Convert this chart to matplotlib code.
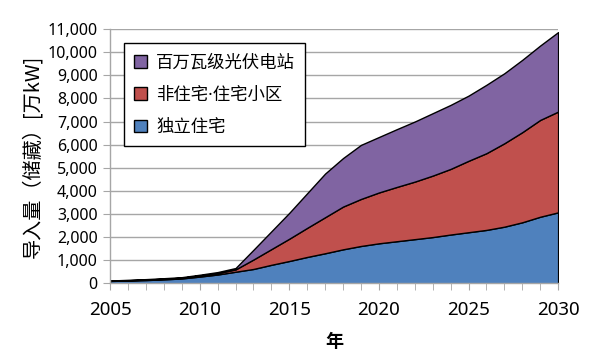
import matplotlib
matplotlib.use('Agg')
import matplotlib.pyplot as plt
from matplotlib.ticker import MultipleLocator, FuncFormatter

plt.rcParams['font.family'] = ['Noto Sans CJK SC', 'DejaVu Sans']

years = list(range(2005, 2031))

# 各区分の累積上端 [万kW]
top_house = [100, 120, 140, 170, 210, 290, 380, 500, 620, 800, 965, 1140, 1300,
             1470, 1615, 1730, 1820, 1910, 2000, 2110, 2210, 2310, 2450, 2640, 2880, 3070]
top_nonres = [110, 130, 160, 195, 240, 340, 440, 600, 1030, 1480, 1930, 2400, 2860,
              3320, 3650, 3930, 4170, 4400, 4660, 4950, 5300, 5630, 6060, 6540, 7070, 7430]
top_mega = [120, 150, 180, 220, 265, 370, 485, 660, 1450, 2250, 3050, 3900, 4750,
            5420, 5990, 6330, 6670, 7000, 7360, 7720, 8120, 8590, 9090, 9670, 10290, 10870]

house = top_house
nonres = [b - a for a, b in zip(top_house, top_nonres)]
mega = [b - a for a, b in zip(top_nonres, top_mega)]

labels = ['独立住宅', '非住宅·住宅小区', '百万瓦级光伏电站']
colors = ['#4F81BD', '#C0504D', '#8064A2']

fig = plt.figure(figsize=(5.95, 3.55), dpi=100)
ax = fig.add_axes([0.185, 0.202, 0.753, 0.716])

ax.stackplot(years, house, nonres, mega, colors=colors, labels=labels,
             edgecolor='black', linewidth=1.0, zorder=2)

ax.set_xlim(2005, 2030)
ax.set_ylim(0, 11000)
ax.yaxis.set_major_locator(MultipleLocator(1000))
ax.xaxis.set_major_locator(MultipleLocator(5))
ax.xaxis.set_minor_locator(MultipleLocator(1))
ax.yaxis.set_major_formatter(FuncFormatter(lambda v, p: f'{int(v):,}'))
ax.grid(axis='y', color='#a6a6a6', linewidth=1.0, zorder=0)
ax.set_axisbelow(True)

for s in ['top', 'right']:
    ax.spines[s].set_visible(False)
for s in ['left', 'bottom']:
    ax.spines[s].set_color('#a6a6a6')
    ax.spines[s].set_linewidth(1.0)

ax.tick_params(axis='both', which='both', color='#a6a6a6', direction='out')
ax.tick_params(axis='x', which='major', length=5, labelsize=13.5, pad=8)
ax.tick_params(axis='x', which='minor', length=5)
ax.tick_params(axis='y', length=5, labelsize=11.5, pad=4)
for t in ax.get_xticklabels() + ax.get_yticklabels():
    t.set_family(['Noto Sans', 'DejaVu Sans'])

ax.set_xlabel('年', fontsize=13, fontweight='bold', labelpad=9)
ax.set_ylabel('导入量（储藏）[万kW]', fontsize=14.5, labelpad=3)

handles, lbls = ax.get_legend_handles_labels()
leg = ax.legend(handles[::-1], lbls[::-1], loc='upper left', bbox_to_anchor=(0.031, 0.945),
                prop={'family': ['Noto Sans', 'Noto Sans CJK SC'], 'size': 12.5},
                frameon=True, fancybox=False, edgecolor='black',
                framealpha=1, handlelength=0.75, handleheight=0.75, labelspacing=0.82,
                borderpad=0.6, handletextpad=0.5, borderaxespad=0)
leg.get_frame().set_linewidth(1.0)

fig.savefig('out.png', dpi=100)
